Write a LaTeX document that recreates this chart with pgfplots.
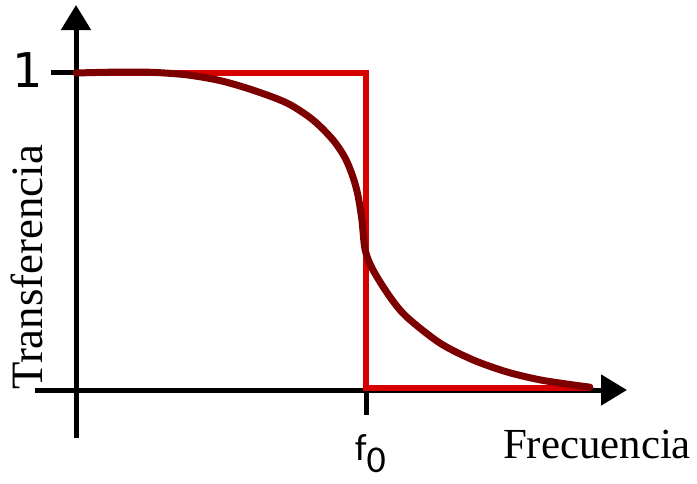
\documentclass[border=0pt]{standalone}
\usepackage{pgfplots}
\pgfplotsset{compat=1.18}
\usepackage{fontspec}
\usetikzlibrary{arrows.meta}
\newfontfamily\labserif{Liberation Serif}
\newfontfamily\labsans{Carlito}
\newfontfamily\labone{DejaVu Sans}
\definecolor{ideal}{RGB}{214,0,0}
\definecolor{real}{RGB}{125,0,0}
\begin{document}
\begin{tikzpicture}
\begin{axis}[
  scale only axis,
  width=592bp, height=433bp,
  xmin=-0.1414, xmax=1.9, ymin=-0.1514, ymax=1.2145,
  axis lines=middle,
  x axis line style={line width=5bp, -{Triangle[length=26bp, width=30bp]}},
  y axis line style={line width=5bp, -{Triangle[length=25bp, width=29bp]}},
  xtick={1}, ytick={1}, xticklabels={}, yticklabels={},
  tick align=center, major tick length=50bp,
  tick style={line width=5bp, black},
  clip=false,
]
% ideal low-pass response
\addplot[color=ideal, line width=6bp, no marks, line join=miter] coordinates {
  (0,1) (1,1) (1,0.006) (1.772,0.006)};
% real response
\addplot[color=real, line width=7bp, no marks, smooth, line cap=round] coordinates {
  (0,1) (0.152,1.003) (0.266,1.002) (0.383,0.994) (0.497,0.976) (0.610,0.946)
  (0.728,0.905) (0.817,0.852) (0.886,0.789) (0.928,0.732) (0.955,0.672)
  (0.972,0.615) (0.986,0.536) (0.997,0.442) (1.024,0.379) (1.083,0.293)
  (1.141,0.230) (1.255,0.148) (1.369,0.095) (1.486,0.057) (1.600,0.032)
  (1.714,0.016) (1.772,0.009)};
\node[anchor=base east, inner sep=0pt, font=\labone\fontsize{48}{48}\selectfont] at (axis cs:-0.114,0.953) {1};
\node[anchor=base west, inner sep=0pt, font=\labsans\fontsize{38}{38}\selectfont] at (axis cs:0.962,-0.221) {f\raisebox{-12bp}{0}};
\node[anchor=base west, inner sep=0pt, font=\labserif\fontsize{43}{43}\selectfont] at (axis cs:1.472,-0.2145) {Frecuencia};
\node[anchor=base west, rotate=90, inner sep=0pt, font=\labserif\fontsize{45}{45}\selectfont] at (axis cs:-0.114,0) {Transferencia};
\coordinate (bbsw) at (axis cs:-0.2621,-0.2934);
\coordinate (bbne) at (axis cs:2.1414,1.2303);
\end{axis}
\pgfresetboundingbox
\useasboundingbox (bbsw) rectangle (bbne);
\end{tikzpicture}
\end{document}
